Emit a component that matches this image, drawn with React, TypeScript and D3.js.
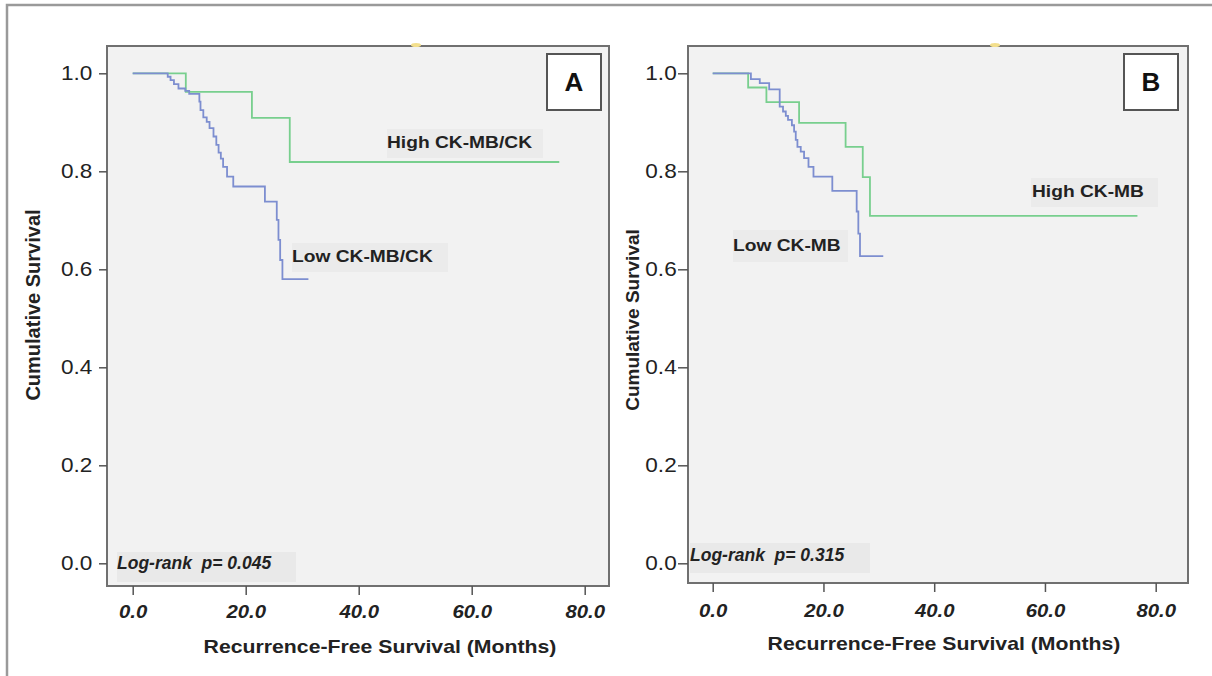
import * as d3 from "d3";
import { useEffect, useRef } from "react";

const WIDTH = 1212;
const HEIGHT = 676;
// the source figure is stretched sideways a little; its horizontal text follows it
const SX = 1.13;

// Axis ticks
const X_TICKS = [0, 20, 40, 60, 80];
const Y_TICKS = [0, 0.2, 0.4, 0.6, 0.8, 1.0];

// Panel A, CK-MB/CK ratio (months, cumulative survival)
const A_HIGH_TIME = [0, 9.4, 21.1, 27.8, 75.5];
const A_HIGH_SURV = [1, 0.962, 0.909, 0.819, 0.819];
const A_LOW_TIME = [
  0, 6.2, 6.7, 7.3, 8.1, 9.3, 10.0, 11.8, 12.0, 12.5, 13.1, 13.6, 14.3, 14.8,
  15.2, 15.6, 16.0, 16.7, 17.8, 23.4, 25.5, 25.8, 26.1, 26.5, 31.1,
];
const A_LOW_SURV = [
  1, 0.993, 0.986, 0.978, 0.969, 0.964, 0.958, 0.942, 0.925, 0.91, 0.901,
  0.888, 0.871, 0.854, 0.838, 0.826, 0.809, 0.789, 0.769, 0.738, 0.701, 0.66,
  0.619, 0.58, 0.58,
];

// Panel B, CK-MB
const B_HIGH_TIME = [0, 6.4, 9.7, 15.6, 24.0, 27.1, 28.4, 76.7];
const B_HIGH_SURV = [1, 0.971, 0.941, 0.899, 0.85, 0.788, 0.709, 0.709];
const B_LOW_TIME = [
  0, 6.9, 8.5, 10.2, 12.1, 12.7, 13.2, 13.6, 14.3, 14.7, 15.0, 15.3, 15.9,
  16.5, 17.3, 18.2, 21.6, 26.0, 26.3, 26.6, 30.8,
];
const B_LOW_SURV = [
  1, 0.988, 0.98, 0.967, 0.932, 0.922, 0.913, 0.905, 0.894, 0.881, 0.864, 0.85,
  0.84, 0.827, 0.809, 0.789, 0.76, 0.718, 0.673, 0.627, 0.627,
];

const GREEN = "#78cf8e";
const BLUE = "#7d8ed0";
const FONT = "'Liberation Sans', Arial, sans-serif";

const PANELS = [
  {
    letter: "A",
    left: 107, right: 609, top: 46, bottom: 586,
    xRange: [132.7, 584.7], yRange: [563.3, 73.3],
    yTickSize: 8, yTickPad: 5, xTickSize: 9, xLabelY: 19,
    yTitleX: 33, yTitleY: 305, yTitleSize: 20,
    xTitleX: 380, xTitleY: 653,
    logRank: "Log-rank  p= 0.045", logBox: [117, 552, 179, 30], logBase: 569,
    high: { label: "High CK-MB/CK", time: A_HIGH_TIME, surv: A_HIGH_SURV, box: [387, 129, 156, 29], tx: 387, ty: 148 },
    low: { label: "Low CK-MB/CK", time: A_LOW_TIME, surv: A_LOW_SURV, box: [292, 243, 156, 29], tx: 292, ty: 262 },
    letterBox: [547, 54, 54, 56], dot: 416,
  },
  {
    letter: "B",
    left: 688, right: 1188, top: 46, bottom: 583,
    xRange: [712.7, 1155.7], yRange: [563.3, 73.3],
    yTickSize: 10, yTickPad: 0, xTickSize: 9, xLabelY: 21,
    yTitleX: 632, yTitleY: 320, yTitleSize: 19,
    xTitleX: 944, xTitleY: 650,
    logRank: "Log-rank  p= 0.315", logBox: [690, 543, 180, 30], logBase: 561,
    high: { label: "High CK-MB", time: B_HIGH_TIME, surv: B_HIGH_SURV, box: [1031, 178, 127, 29], tx: 1032, ty: 197 },
    low: { label: "Low CK-MB", time: B_LOW_TIME, surv: B_LOW_SURV, box: [733, 230, 115, 32], tx: 733, ty: 251 },
    letterBox: [1124, 54, 54, 56], dot: 995,
  },
];

const hText = (g, x, y, str, opts) => {
  return g
    .append("text")
    .attr("transform", `translate(${x},${y}) scale(${opts.sx ?? SX},1)`)
    .attr("font-family", FONT)
    .attr("font-size", opts.size)
    .attr("font-weight", opts.weight || "normal")
    .attr("font-style", opts.style || "normal")
    .attr("text-anchor", opts.anchor || "start")
    .attr("fill", "#222")
    .style("white-space", "pre")
    .text(str);
};

const drawPanel = (svg, p) => {
  const x = d3.scaleLinear().domain([0, 80]).range(p.xRange);
  const y = d3.scaleLinear().domain([0, 1]).range(p.yRange);
  const g = svg.append("g");

  g.append("rect")
    .attr("x", p.left)
    .attr("y", p.top)
    .attr("width", p.right - p.left)
    .attr("height", p.bottom - p.top)
    .attr("fill", "#f2f2f2")
    .attr("stroke", "#707070")
    .attr("stroke-width", 2);

  // little yellow mark on the top edge
  g.append("ellipse")
    .attr("cx", p.dot)
    .attr("cy", p.top - 1)
    .attr("rx", 5)
    .attr("ry", 2)
    .attr("fill", "#f3df8c");

  // y axis
  const yAxis = g
    .append("g")
    .attr("transform", `translate(${p.left},0)`)
    .call(
      d3
        .axisLeft(y)
        .tickValues(Y_TICKS)
        .tickFormat(d3.format(".1f"))
        .tickSize(p.yTickSize)
        .tickPadding(p.yTickPad)
    );
  yAxis.select(".domain").remove();
  yAxis.selectAll("line").attr("stroke", "#555").attr("stroke-width", 1.5);
  yAxis
    .selectAll("text")
    .attr("font-family", FONT)
    .attr("font-size", 20)
    .attr("fill", "#222")
    .attr("transform", `scale(${SX},1)`);

  // x axis
  const xAxis = g
    .append("g")
    .attr("transform", `translate(0,${p.bottom})`)
    .call(
      d3
        .axisBottom(x)
        .tickValues(X_TICKS)
        .tickFormat(d3.format(".1f"))
        .tickSize(p.xTickSize)
        .tickPadding(p.xLabelY - p.xTickSize)
    );
  xAxis.select(".domain").remove();
  xAxis.selectAll("line").attr("stroke", "#555").attr("stroke-width", 1.5);
  xAxis
    .selectAll("text")
    .attr("font-family", FONT)
    .attr("font-size", 18)
    .attr("font-weight", "bold")
    .attr("font-style", "italic")
    .attr("fill", "#222")
    .attr("transform", `scale(${SX},1)`);

  // axis titles
  g.append("text")
    .attr("transform", `translate(${p.yTitleX},${p.yTitleY}) rotate(-90)`)
    .attr("text-anchor", "middle")
    .attr("dominant-baseline", "central")
    .attr("font-family", FONT)
    .attr("font-size", p.yTitleSize)
    .attr("font-weight", "bold")
    .attr("fill", "#222")
    .text("Cumulative Survival");
  hText(g, p.xTitleX, p.xTitleY, "Recurrence-Free Survival (Months)", {
    size: 18.8,
    weight: "bold",
    anchor: "middle",
  });

  // survival curves
  const line = d3
    .line()
    .x((d) => x(d[0]))
    .y((d) => y(d[1]))
    .curve(d3.curveStepAfter);
  [
    [p.high, GREEN],
    [p.low, BLUE],
  ].forEach(([s, color]) => {
    g.append("path")
      .datum(d3.zip(s.time, s.surv))
      .attr("fill", "none")
      .attr("stroke", color)
      .attr("stroke-width", 1.8)
      .attr("d", line);
  });

  // group labels on grey patches
  [p.high, p.low].forEach((s) => {
    g.append("rect")
      .attr("x", s.box[0])
      .attr("y", s.box[1])
      .attr("width", s.box[2])
      .attr("height", s.box[3])
      .attr("fill", "#ebebeb");
    hText(g, s.tx, s.ty, s.label, { size: 17, weight: "bold" });
  });

  // log-rank note
  g.append("rect")
    .attr("x", p.logBox[0])
    .attr("y", p.logBox[1])
    .attr("width", p.logBox[2])
    .attr("height", p.logBox[3])
    .attr("fill", "#e9e9e9");
  hText(g, p.logBox[0], p.logBase, p.logRank, {
    size: 17.5,
    weight: "bold",
    style: "italic",
    sx: 1,
  });

  // panel letter
  const [bx, by, bw, bh] = p.letterBox;
  g.append("rect")
    .attr("x", bx)
    .attr("y", by)
    .attr("width", bw)
    .attr("height", bh)
    .attr("fill", "#fff")
    .attr("stroke", "#555")
    .attr("stroke-width", 2);
  g.append("text")
    .attr("x", bx + bw / 2)
    .attr("y", by + bh / 2 + 9)
    .attr("text-anchor", "middle")
    .attr("font-family", FONT)
    .attr("font-size", 26)
    .attr("font-weight", "bold")
    .attr("fill", "#111")
    .text(p.letter);
};

const App = () => {
  const svgRef = useRef(null);

  useEffect(() => {
    const svg = d3.select(svgRef.current);
    svg.selectAll("*").remove();

    svg.append("rect").attr("width", WIDTH).attr("height", HEIGHT).attr("fill", "#fff");
    // outer frame (top and left edges only)
    svg
      .append("path")
      .attr("d", `M7,${HEIGHT} V5 H${WIDTH}`)
      .attr("fill", "none")
      .attr("stroke", "#9a9a9a")
      .attr("stroke-width", 2.5);

    PANELS.forEach((p) => drawPanel(svg, p));
  }, []);

  return (
    <svg
      ref={svgRef}
      width={WIDTH}
      height={HEIGHT}
      style={{ position: "absolute", left: 0, top: 0 }}
    />
  );
};

export default App;
